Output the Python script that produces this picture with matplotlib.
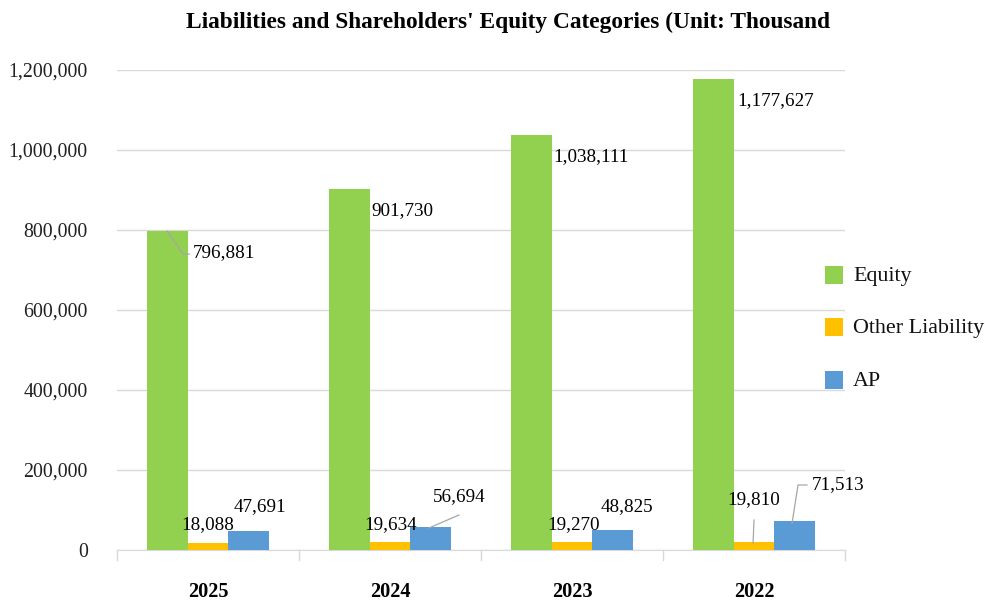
import matplotlib.pyplot as plt
from matplotlib.patches import Rectangle
import numpy as np

categories = ["2025", "2024", "2023", "2022"]
equity = [796881, 901730, 1038111, 1177627]
other_liability = [18088, 19634, 19270, 19810]
ap = [47691, 56694, 48825, 71513]
series_names = ["Equity", "Other Liability", "AP"]
colors = ["#92D050", "#FFC000", "#5B9BD5"]

plt.rcParams['font.family'] = ['Liberation Serif', 'DejaVu Serif']

W, H = 985, 603
fig = plt.figure(figsize=(W/100, H/100), dpi=100)
ax = fig.add_axes([117/W, 1-550/H, (845-117)/W, (550-70)/H])

x = np.arange(len(categories))
bw = 0.224
series = [equity, other_liability, ap]
for i, (vals, c, n) in enumerate(zip(series, colors, series_names)):
    ax.bar(x + (i-1)*bw, vals, bw, color=c, label=n, zorder=3)

ax.set_xlim(-0.5, len(categories)-0.5)
ax.set_ylim(0, 1200000)
yt = np.arange(0, 1200001, 200000)
ax.set_yticks(yt)
ax.set_yticklabels([f"{v:,}" for v in yt], fontsize=14.3, color='#222222')
ax.yaxis.grid(True, color='#D9D9D9', linewidth=1, zorder=0)
ax.tick_params(axis='y', length=0, pad=21)
ax.set_xticks(x)
ax.set_xticklabels(categories, fontsize=14.6, fontweight='bold')
ax.tick_params(axis='x', length=0, pad=23)
for s in ['top', 'right', 'left']:
    ax.spines[s].set_visible(False)
ax.spines['bottom'].set_color('#D9D9D9')
for b in np.arange(-0.5, len(categories), 1.0):
    ax.plot([b, b], [0, -25000], color='#D9D9D9', lw=1, clip_on=False)

fs = 13.8
lc = '#A6A6A6'

# Equity labels
eq_dx = [-0.082, -0.1, -0.104, -0.093]
for xi, v, dx in zip(x, equity, eq_dx):
    ax.text(xi + dx, v - 54000, f"{v:,}", fontsize=fs, ha='left', va='center', zorder=5)
ax.plot([x[0] - bw, x[0] - bw + 0.088, x[0] - bw + 0.121],
        [equity[0], equity[0] - 57000, equity[0] - 57000], color=lc, lw=0.9, zorder=4)

# Other Liability labels
ol_pos = [(0.0, 62500), (0.005, 62500), (0.01, 62500), (0.0, 125000)]
for xi, v, (dx, ty) in zip(x, other_liability, ol_pos):
    ax.text(xi + dx, ty, f"{v:,}", fontsize=fs, ha='center', va='center', zorder=5)
ax.plot([x[3], x[3] - 0.005], [75000, 17500], color=lc, lw=0.9, zorder=4)

# AP labels
ap_pos = [(0.283, 107500), (0.379, 132500), (0.302, 107500), (0.46, 162500)]
for xi, v, (dx, ty) in zip(x, ap, ap_pos):
    ax.text(xi + dx, ty, f"{v:,}", fontsize=fs, ha='center', va='center', zorder=5)
ax.plot([x[1] + bw - 0.01, x[1] + 0.379], [55000, 87500], color=lc, lw=0.9, zorder=4)
ax.plot([x[3] + 0.209, x[3] + 0.242, x[3] + 0.291], [67000, 162500, 162500],
        color=lc, lw=0.9, zorder=4)

# Legend (manual placement)
leg_y = [275, 327, 380]
for n, c, py in zip(series_names, colors, leg_y):
    fig.add_artist(Rectangle((825/W, 1-(py+9)/H), 18/W, 18/H, transform=fig.transFigure,
                             facecolor=c, edgecolor='none'))
    fig.text(853/W, 1-(py+2)/H, n, ha='left', va='center', fontsize=15.8, color='#111111')

fig.text(508/W, 1-22/H, "Liabilities and Shareholders' Equity Categories (Unit: Thousand",
         ha='center', va='center', fontsize=16.8, fontweight='bold')

fig.savefig("out.png", dpi=100)
